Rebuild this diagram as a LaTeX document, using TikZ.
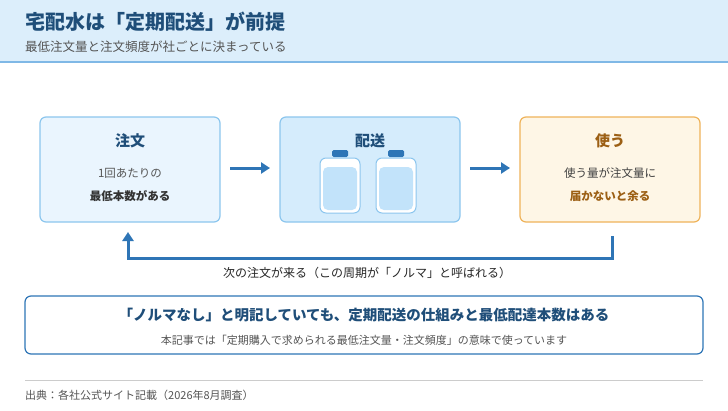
\documentclass[tikz,border=0pt]{standalone}
\usepackage{fontspec}
\setmainfont{Noto Sans CJK JP}
\usetikzlibrary{arrows.meta}
\definecolor{hdr}{HTML}{DCEEFB}
\definecolor{hline}{HTML}{7FB8E6}
\definecolor{navy}{HTML}{1F4E79}
\definecolor{gry}{HTML}{555555}
\definecolor{bl}{HTML}{2E75B6}
\definecolor{lfill}{HTML}{EAF5FE}
\definecolor{lbord}{HTML}{8CC6EE}
\definecolor{mfill}{HTML}{D5ECFC}
\definecolor{rfill}{HTML}{FEF6E6}
\definecolor{rbord}{HTML}{EFB35A}
\definecolor{brn}{HTML}{9C5F14}
\definecolor{bott}{HTML}{C2E3FA}
\begin{document}
\begin{tikzpicture}[x=1pt,y=-1pt,
  box/.style={draw,line width=1.2pt,rounded corners=6pt},
  arr/.style={draw=bl,line width=3pt,-{Triangle[length=9pt,width=11pt]}},
  t/.style={inner sep=0pt,font=\fontsize{#1}{#1}\selectfont},
  t/.default=11]
\useasboundingbox (0,0) rectangle (728,410);
\fill[white] (0,0) rectangle (728,410);
\fill[hdr] (0,0) rectangle (728,62);
\draw[hline,line width=2pt] (0,62) -- (728,62);
\node[t=20,anchor=west,text=navy,font=\bfseries\fontsize{20}{20}\selectfont] (title) at (25,22) {宅配水は「定期配送」が前提};
\node[t=12.5,anchor=west,text=gry] (sub) at (25,47) {最低注文量と注文頻度が社ごとに決まっている};
% boxes
\draw[box,draw=lbord,fill=lfill] (40,117) rectangle (220,222);
\node[t=15,text=navy,font=\bfseries\fontsize{15}{15}\selectfont] (l1) at (130,141) {注文};
\node[t=11.5,text=gry] (l2) at (130,173) {1回あたりの};
\node[t=11.5,font=\bfseries\fontsize{11.5}{11.5}\selectfont,text=black!80] (l3) at (130,196) {最低本数がある};
\coordinate (lb) at (128,232);
\draw[box,draw=lbord,fill=mfill] (280,117) rectangle (460,222);
\node[t=15,text=navy,font=\bfseries\fontsize{15}{15}\selectfont] (m1) at (370,141) {配送};
\foreach \x in {320,376}{
  \fill[bl,rounded corners=1.5pt] (\x+12,150) rectangle (\x+28,157);
  \draw[lbord,line width=1pt,fill=white,rounded corners=6pt] (\x,158) rectangle (\x+40,213);
  \fill[bott,rounded corners=5pt] (\x+3,167) rectangle (\x+37,210);
}
\draw[box,draw=rbord,fill=rfill] (520,117) rectangle (700,222);
\node[t=15,text=brn,font=\bfseries\fontsize{15}{15}\selectfont] (r1) at (610,141) {使う};
\node[t=11.5,text=black!75] (r2) at (610,173) {使う量が注文量に};
\node[t=11.5,text=brn,font=\bfseries\fontsize{11.5}{11.5}\selectfont] (r3) at (610,196) {届かないと余る};
\coordinate (a1s) at (230,168); \coordinate (a1e) at (270,168);
\coordinate (a2s) at (470,168); \coordinate (a2e) at (510,168);
\draw[arr] (a1s) -- (a1e);
\draw[arr] (a2s) -- (a2e);
\coordinate (rb) at (612,236);
\draw[arr] (rb) -- (612,258) -- (128,258) -- (lb);
\node[t=12,text=black!85] (fb) at (367,273) {次の注文が来る（この周期が「ノルマ」と呼ばれる）};
% bottom box
\draw[draw=bl,line width=1.2pt,rounded corners=6pt,fill=white] (25,296) rectangle (703,354);
\node[t=15,text=navy,font=\bfseries\fontsize{14.5}{14.5}\selectfont] (b1) at (364,315) {「ノルマなし」と明記していても、定期配送の仕組みと最低配達本数はある};
\node[t=11,text=gry] (b2) at (364,340) {本記事では「定期購入で求められる最低注文量・注文頻度」の意味で使っています};
\draw[black!20,line width=0.8pt] (25,380) -- (703,380);
\node[t=11,anchor=west,text=gry] (src) at (25,395) {出典：各社公式サイト記載（2026年8月調査）};
\end{tikzpicture}
\end{document}
